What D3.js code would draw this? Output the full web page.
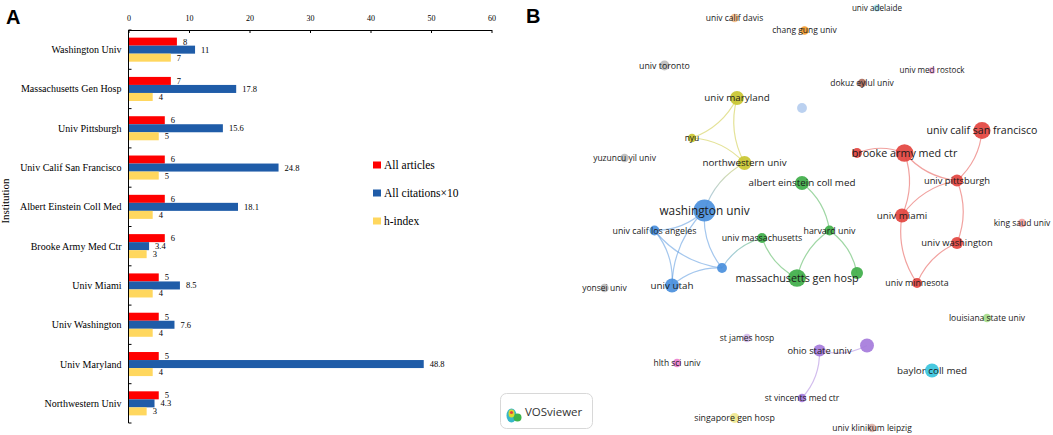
<!DOCTYPE html>
<html>
<head>
<meta charset="utf-8">
<script src="https://d3js.org/d3.v7.min.js"></script>
<style>
  html, body { margin: 0; padding: 0; background: #fff; }
  svg { display: block; }
  .serif { font-family: "Liberation Serif", "Times New Roman", serif; }
  .vos { font-family: "Open Sans", "Noto Sans", sans-serif; }
</style>
</head>
<body>
<svg id="chart" width="1053" height="435"></svg>
<script>
// ---- panel A data ----
var institutions = [
  'Washington Univ', 'Massachusetts Gen Hosp', 'Univ Pittsburgh', 'Univ Calif San Francisco',
  'Albert Einstein Coll Med', 'Brooke Army Med Ctr', 'Univ Miami', 'Univ Washington',
  'Univ Maryland', 'Northwestern Univ'
];
var articles  = [8, 7, 6, 6, 6, 6, 5, 5, 5, 5];
var citations = [11, 17.8, 15.6, 24.8, 18.1, 3.4, 8.5, 7.6, 48.8, 4.3]; // all citations / 10
var hIndex    = [7, 4, 5, 5, 4, 3, 4, 4, 4, 3];
var seriesNames = ['All articles', 'All citations\u00d710', 'h-index'];
var xTicks = [0, 10, 20, 30, 40, 50, 60];

// ---- panel B data (map coordinates, cluster, weight) ----
var nodes = [
  {id: 'univ calif san francisco', x: 0.82, y: -0.35, cluster: 1, weight: 12},
  {id: 'brooke army med ctr',      x: 0.51, y: -0.26, cluster: 1, weight: 13},
  {id: 'red-a', label: false,      x: 0.32, y: -0.26, cluster: 1, weight: 4},
  {id: 'univ pittsburgh',          x: 0.72, y: -0.15, cluster: 1, weight: 6},
  {id: 'univ miami',               x: 0.50, y: -0.01, cluster: 1, weight: 8},
  {id: 'univ washington',          x: 0.72, y: 0.10,  cluster: 1, weight: 6},
  {id: 'univ minnesota',           x: 0.56, y: 0.26,  cluster: 1, weight: 4},
  {id: 'albert einstein coll med', x: 0.10, y: -0.14, cluster: 2, weight: 8},
  {id: 'univ massachusetts',       x: -0.06, y: 0.08, cluster: 2, weight: 4},
  {id: 'harvard univ',             x: 0.21, y: 0.05,  cluster: 2, weight: 4},
  {id: 'massachusetts gen hosp',   x: 0.08, y: 0.24,  cluster: 2, weight: 13},
  {id: 'green-a', label: false,    x: 0.32, y: 0.22,  cluster: 2, weight: 6},
  {id: 'washington univ',          x: -0.29, y: -0.03, cluster: 3, weight: 20},
  {id: 'univ calif los angeles',   x: -0.49, y: 0.05, cluster: 3, weight: 4},
  {id: 'univ utah',                x: -0.42, y: 0.27, cluster: 3, weight: 8},
  {id: 'blue-a', label: false,     x: -0.22, y: 0.20, cluster: 3, weight: 4},
  {id: 'univ maryland',            x: -0.16, y: -0.48, cluster: 4, weight: 8},
  {id: 'nyu',                      x: -0.34, y: -0.32, cluster: 4, weight: 3},
  {id: 'northwestern univ',        x: -0.13, y: -0.22, cluster: 4, weight: 8},
  {id: 'ohio state univ',          x: 0.17, y: 0.53,  cluster: 5, weight: 6},
  {id: 'purple-a', label: false,   x: 0.36, y: 0.51,  cluster: 5, weight: 8},
  {id: 'st vincents med ctr',      x: 0.10, y: 0.72,  cluster: 5, weight: 3},
  {id: 'baylor coll med',          x: 0.62, y: 0.61,  cluster: 6, weight: 8},
  {id: 'chang gung univ',          x: 0.11, y: -0.75, cluster: 7, weight: 3},
  {id: 'dokuz eylul univ',         x: 0.34, y: -0.54, cluster: 8, weight: 3},
  {id: 'hlth sci univ',            x: -0.40, y: 0.58, cluster: 9, weight: 3},
  {id: 'king saud univ',           x: 0.98, y: 0.02,  cluster: 10, weight: 3},
  {id: 'louisiana state univ',     x: 0.84, y: 0.40,  cluster: 11, weight: 3},
  {id: 'lightblue-a', label: false, x: 0.10, y: -0.44, cluster: 12, weight: 4},
  {id: 'singapore gen hosp',       x: -0.17, y: 0.80, cluster: 13, weight: 4},
  {id: 'st james hosp',            x: -0.12, y: 0.48, cluster: 14, weight: 3},
  {id: 'univ adelaide',            x: 0.40, y: -0.84, cluster: 15, weight: 2},
  {id: 'univ calif davis',         x: -0.17, y: -0.80, cluster: 16, weight: 3},
  {id: 'univ klinikum leipzig',    x: 0.38, y: 0.84,  cluster: 17, weight: 3},
  {id: 'univ med rostock',         x: 0.62, y: -0.59, cluster: 18, weight: 2},
  {id: 'univ toronto',             x: -0.45, y: -0.61, cluster: 0, weight: 4},
  {id: 'yuzuncu yil univ',         x: -0.61, y: -0.24, cluster: 0, weight: 3},
  {id: 'yonsei univ',              x: -0.69, y: 0.28, cluster: 0, weight: 3}
];

var links = [
  ['nyu', 'univ maryland'],
  ['univ maryland', 'northwestern univ'],
  ['northwestern univ', 'nyu'],
  ['northwestern univ', 'washington univ'],
  ['univ calif los angeles', 'washington univ'],
  ['washington univ', 'univ utah'],
  ['washington univ', 'blue-a'],
  ['univ utah', 'univ calif los angeles'],
  ['univ calif los angeles', 'blue-a'],
  ['blue-a', 'univ utah'],
  ['univ massachusetts', 'blue-a'],
  ['univ massachusetts', 'massachusetts gen hosp'],
  ['harvard univ', 'albert einstein coll med'],
  ['harvard univ', 'massachusetts gen hosp'],
  ['green-a', 'harvard univ'],
  ['brooke army med ctr', 'red-a'],
  ['brooke army med ctr', 'univ pittsburgh'],
  ['univ pittsburgh', 'univ calif san francisco'],
  ['univ miami', 'brooke army med ctr'],
  ['univ pittsburgh', 'univ miami'],
  ['univ washington', 'univ pittsburgh'],
  ['univ miami', 'univ minnesota'],
  ['univ washington', 'univ minnesota'],
  ['ohio state univ', 'purple-a'],
  ['st vincents med ctr', 'ohio state univ']
];

var clusterPalette = [
  '#bdbdbd', '#e3443f', '#3fae49', '#4a8fdc', '#c9c530', '#a57bdb', '#38c3dc',
  '#f29a2e', '#a86a5c', '#ea80cf', '#f2a3a3', '#a6dc8a', '#b5cdef', '#efe88e',
  '#d2bbe9', '#a7e3ee', '#f5bf88', '#dbb3a9', '#f4b6df'
];

var svg = d3.select('#chart');

// =================== Panel A: grouped bars ===================
var panelA = svg.append('g').attr('class', 'panel-a serif');

var x = d3.scaleLinear().domain([0, 60]).range([128.5, 491.5]);
var y = d3.scaleBand().domain(institutions).range([30, 423]);
var yInner = d3.scaleBand().domain(seriesNames).range([0, y.bandwidth()]).paddingOuter(0.95);
var barColor = d3.scaleOrdinal().domain(seriesNames).range(['#ff0000', '#1f5ca8', '#ffd75e']);

var rows = institutions.map(function(name, i) {
  return {name: name, values: [articles[i], citations[i], hIndex[i]]};
});

// top axis
var xAxis = d3.axisTop(x).tickValues(xTicks).tickSizeInner(-3).tickSizeOuter(0).tickPadding(9);
panelA.append('g')
  .attr('transform', 'translate(0,30)')
  .attr('color', '#000')
  .call(xAxis)
  .call(function(g) {
    g.selectAll('text').attr('font-family', 'Liberation Serif').attr('font-size', 8).attr('fill', '#000');
  });

// left axis line with ticks on the band edges
panelA.append('line')
  .attr('x1', x(0)).attr('x2', x(0))
  .attr('y1', y.range()[0]).attr('y2', y.range()[1])
  .attr('stroke', '#000');
panelA.selectAll('line.ytick')
  .data(d3.range(institutions.length + 1))
  .enter().append('line')
  .attr('class', 'ytick')
  .attr('x1', x(0)).attr('x2', x(0) + 3)
  .attr('y1', function(i) { return y.range()[0] + i * y.step(); })
  .attr('y2', function(i) { return y.range()[0] + i * y.step(); })
  .attr('stroke', '#000');

panelA.selectAll('text.cat')
  .data(institutions)
  .enter().append('text')
  .attr('class', 'cat')
  .attr('x', x(0) - 7)
  .attr('y', function(d) { return y(d) + y.bandwidth() / 2; })
  .attr('dy', '0.35em')
  .attr('text-anchor', 'end')
  .attr('font-size', 10)
  .text(function(d) { return d; });

var groups = panelA.selectAll('g.group')
  .data(rows)
  .enter().append('g')
  .attr('class', 'group')
  .attr('transform', function(d) { return 'translate(0,' + y(d.name) + ')'; });

groups.selectAll('rect')
  .data(function(d) { return d.values.map(function(v, j) { return {s: seriesNames[j], v: v}; }); })
  .enter().append('rect')
  .attr('x', x(0) + 0.5)
  .attr('y', function(d) { return yInner(d.s); })
  .attr('width', function(d) { return x(d.v) - x(0) - 0.5; })
  .attr('height', yInner.bandwidth())
  .attr('fill', function(d) { return barColor(d.s); });

groups.selectAll('text.val')
  .data(function(d) { return d.values.map(function(v, j) { return {s: seriesNames[j], v: v}; }); })
  .enter().append('text')
  .attr('class', 'val')
  .attr('x', function(d) { return x(d.v) + 6; })
  .attr('y', function(d) { return yInner(d.s) + yInner.bandwidth() / 2; })
  .attr('dy', '0.35em')
  .attr('font-size', 8.5)
  .text(function(d) { return d.v; });

// legend
var legend = panelA.selectAll('g.legend')
  .data(seriesNames)
  .enter().append('g')
  .attr('class', 'legend')
  .attr('transform', function(d, i) { return 'translate(373,' + (165 + i * 28) + ')'; });
legend.append('rect').attr('x', 0).attr('y', -3.5).attr('width', 8).attr('height', 7)
  .attr('fill', function(d) { return barColor(d); });
legend.append('text').attr('x', 11).attr('dy', '0.35em').attr('font-size', 11.5)
  .text(function(d) { return d; });

panelA.append('text')
  .attr('transform', 'translate(9,201) rotate(-90)')
  .attr('text-anchor', 'middle')
  .attr('font-size', 11)
  .text('Institution');

svg.append('text').attr('x', 6).attr('y', 24)
  .attr('font-family', 'Liberation Sans, Arial, sans-serif').attr('font-weight', 'bold').attr('font-size', 20)
  .text('A');

// =================== Panel B: network map ===================
var panelB = svg.append('g').attr('class', 'panel-b vos');

svg.append('text').attr('x', 526).attr('y', 23)
  .attr('font-family', 'Liberation Sans, Arial, sans-serif').attr('font-weight', 'bold').attr('font-size', 20)
  .text('B');

var mapX = d3.scaleLinear().domain([-1, 1]).range([527, 1027]);
var mapY = d3.scaleLinear().domain([-1, 1]).range([-32, 468]);
var radius = d3.scaleSqrt().domain([0, 20]).range([0, 11]);
var labelSize = d3.scalePow().exponent(0.5).domain([2, 20]).range([8.1, 11.8]);
var clusterColor = function(c) { return clusterPalette[c]; };

var byId = {};
nodes.forEach(function(n) { n.px = mapX(n.x); n.py = mapY(n.y); byId[n.id] = n; });

var defs = svg.append('defs');
var curvature = 0.2;

links.forEach(function(l, i) {
  var s = byId[l[0]], t = byId[l[1]];
  var grad = defs.append('linearGradient')
    .attr('id', 'lg' + i)
    .attr('gradientUnits', 'userSpaceOnUse')
    .attr('x1', s.px).attr('y1', s.py).attr('x2', t.px).attr('y2', t.py);
  grad.append('stop').attr('offset', '0%').attr('stop-color', clusterColor(s.cluster));
  grad.append('stop').attr('offset', '100%').attr('stop-color', clusterColor(t.cluster));

  var dx = t.px - s.px, dy = t.py - s.py;
  var p = d3.path();
  p.moveTo(s.px, s.py);
  p.quadraticCurveTo((s.px + t.px) / 2 - dy * curvature, (s.py + t.py) / 2 + dx * curvature, t.px, t.py);
  panelB.append('path')
    .attr('d', p.toString())
    .attr('fill', 'none')
    .attr('stroke', 'url(#lg' + i + ')')
    .attr('stroke-opacity', 0.5)
    .attr('stroke-width', 1.2);
});

panelB.selectAll('circle.node')
  .data(nodes)
  .enter().append('circle')
  .attr('class', 'node')
  .attr('cx', function(d) { return d.px; })
  .attr('cy', function(d) { return d.py; })
  .attr('r', function(d) { return radius(d.weight); })
  .attr('fill', function(d) { return clusterColor(d.cluster); })
  .attr('fill-opacity', 0.92);

panelB.selectAll('text.label')
  .data(nodes.filter(function(d) { return d.label !== false; }))
  .enter().append('text')
  .attr('class', 'label')
  .attr('x', function(d) { return d.px; })
  .attr('y', function(d) { return d.py; })
  .attr('dy', '0.35em')
  .attr('text-anchor', 'middle')
  .attr('font-size', function(d) { return labelSize(d.weight); })
  .attr('fill', '#1a1a1a')
  .text(function(d) { return d.id; });

// VOSviewer badge
var badge = svg.append('g').attr('class', 'vos').attr('transform', 'translate(500.5,393.5)');
badge.append('rect').attr('width', 92).attr('height', 35).attr('rx', 6)
  .attr('fill', '#fff').attr('stroke', '#d8d8d8');
badge.append('ellipse').attr('cx', 11).attr('cy', 22).attr('rx', 5).attr('ry', 7).attr('fill', '#37b7c9');
badge.append('ellipse').attr('cx', 17).attr('cy', 24).attr('rx', 4).attr('ry', 4).attr('fill', '#3cb44b');
badge.append('ellipse').attr('cx', 11).attr('cy', 20).attr('rx', 3).attr('ry', 4).attr('fill', '#d9d92c');
badge.append('circle').attr('cx', 11).attr('cy', 19).attr('r', 1.6).attr('fill', '#e3443f');
badge.append('text').attr('x', 24.5).attr('y', 22).attr('font-size', 11.5).attr('fill', '#333')
  .text('VOSviewer');
</script>
</body>
</html>
